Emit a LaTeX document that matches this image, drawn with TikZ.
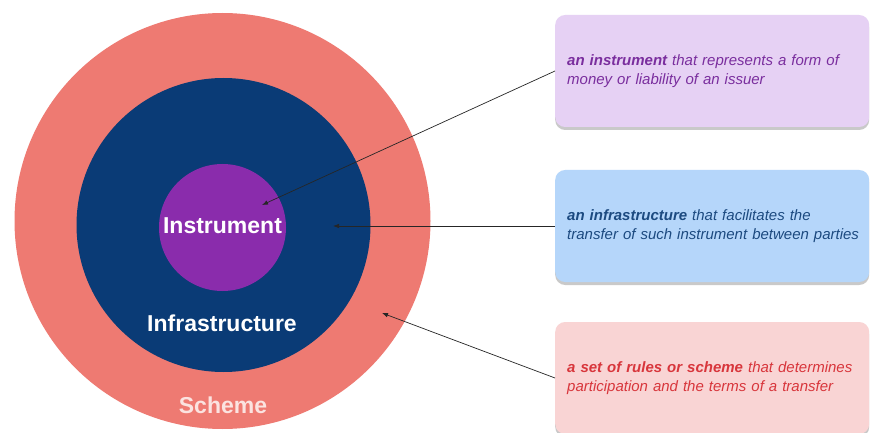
\documentclass[tikz,border=0pt]{standalone}
\usepackage{fontspec}
\setmainfont{Liberation Sans}
\usetikzlibrary{shadows,arrows.meta}
\definecolor{schemeC}{HTML}{EE7A72}
\definecolor{infraC}{HTML}{0A3B76}
\definecolor{instrC}{HTML}{8A2CAC}
\definecolor{boxP}{HTML}{E6D1F4}
\definecolor{boxB}{HTML}{B5D6FA}
\definecolor{boxR}{HTML}{F9D4D4}
\definecolor{txtP}{HTML}{7A2E9E}
\definecolor{txtB}{HTML}{1C4A80}
\definecolor{txtR}{HTML}{D8363C}
\definecolor{schemeT}{HTML}{FBE3E0}
\tikzset{
  x=1pt, y=-1pt,
  ring/.style={circle, inner sep=0pt, draw=none},
  ringlabel/.style={text=white, font=\fontsize{23}{26}\selectfont\bfseries, inner sep=0pt},
  descbox/.style={rounded corners=10pt, minimum width=314pt, minimum height=112pt,
     text width=290pt, align=left, anchor=west, inner sep=0pt,
     font=\fontsize{15}{18.5}\selectfont\itshape,
     drop shadow={shadow xshift=0pt, shadow yshift=-3pt, opacity=0.35, fill=black!60}},
  pointer/.style={draw=black!85, line width=0.7pt, -{Latex[length=6pt,width=4.5pt]}}
}
\begin{document}
\begin{tikzpicture}
\useasboundingbox[fill=white] (0,0) rectangle (871,433);
\node[ring, fill=schemeC, minimum size=416pt] (scheme) at (222.5,221) {};
\node[ring, fill=infraC, minimum size=294pt] (infra) at (223.5,225) {};
\node[ring, fill=instrC, minimum size=127pt] (instr) at (222.5,227.5) {};
\node[ringlabel] (tInstr) at (222.5,226) {Instrument};
\node[ringlabel] (tInfra) at (222,323) {Infrastructure};
\node[ringlabel, text=schemeT] (tScheme) at (223,405) {Scheme};

\node[descbox, fill=boxP, text=txtP] (bP) at (555,71)
  {\mbox{\textbf{an instrument} that represents a form of}\\\mbox{money or liability of an issuer}};
\node[descbox, fill=boxB, text=txtB] (bB) at (555,226)
  {\mbox{\textbf{an infrastructure} that facilitates the}\\\mbox{transfer of such instrument between parties}};
\node[descbox, fill=boxR, text=txtR] (bR) at (555,378)
  {\mbox{\textbf{a set of rules or scheme} that determines}\\\mbox{participation and the terms of a transfer}};

\coordinate (pI) at (262,205);
\coordinate (pF) at (333,226);
\coordinate (pS) at (382,313);
\draw[pointer] (bP.west) -- (pI);
\draw[pointer] (bB.west) -- (pF);
\draw[pointer] (bR.west) -- (pS);
\end{tikzpicture}
\end{document}
